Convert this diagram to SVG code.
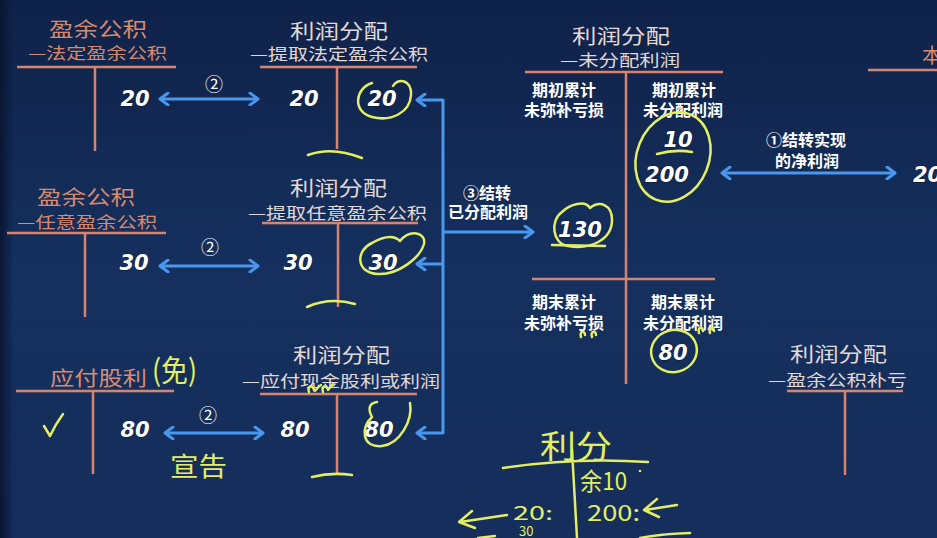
<svg xmlns="http://www.w3.org/2000/svg" width="937" height="538" viewBox="0 0 937 538">
<defs>
<linearGradient id="bg" x1="0" y1="0" x2="0" y2="1">
<stop offset="0" stop-color="#0f2249"/>
<stop offset="0.5" stop-color="#15305e"/>
<stop offset="1" stop-color="#152e5c"/>
</linearGradient>
<linearGradient id="edge" x1="0" y1="0" x2="1" y2="0">
<stop offset="0" stop-color="#091633"/>
<stop offset="1" stop-color="#091633" stop-opacity="0"/>
</linearGradient>
<marker id="ah" viewBox="0 0 12 14" refX="10" refY="7" markerWidth="12" markerHeight="14" markerUnits="userSpaceOnUse" orient="auto-start-reverse">
<path d="M2,1 L10,7 L2,13" fill="none" stroke="#4a97ee" stroke-width="3" stroke-linecap="round" stroke-linejoin="round"/>
</marker>
<style>
.ttl{font-family:"Noto Sans CJK SC","Noto Sans",sans-serif;font-size:20px;fill:#e2d8d4}
.o{fill:#d98a6e}
.sub{font-size:16px}
.tl{stroke:#d9826c;stroke-width:2.5;fill:none}
.num{font-family:"DejaVu Sans",sans-serif;font-weight:bold;font-style:italic;font-size:21px;fill:#ffffff;stroke:#0b1530;stroke-width:1;paint-order:stroke}
.lbl{font-family:"Noto Sans CJK SC","Noto Sans",sans-serif;font-weight:bold;font-size:16px;fill:#ffffff;text-anchor:middle}
.cir{font-family:"Noto Sans CJK SC","DejaVu Sans",sans-serif;font-size:18px;fill:#ffffff;text-anchor:middle}
.hw{fill:none;stroke:#e3ee63;stroke-width:2.5;stroke-linecap:round;stroke-linejoin:round}
.hwt{font-family:"Noto Sans CJK SC","Noto Sans",sans-serif;fill:#e3ee63;font-weight:400}
.conn{stroke:#4a97ee;stroke-width:3;fill:none}
</style>
</defs>
<rect width="937" height="538" fill="url(#bg)"/>
<rect width="14" height="538" fill="url(#edge)"/>

<g id="connectors">
<line class="conn" x1="160" y1="99" x2="258" y2="99" marker-start="url(#ah)" marker-end="url(#ah)"/>
<line class="conn" x1="160" y1="266" x2="258" y2="266" marker-start="url(#ah)" marker-end="url(#ah)"/>
<line class="conn" x1="165" y1="433" x2="263" y2="433" marker-start="url(#ah)" marker-end="url(#ah)"/>
<line class="conn" x1="722" y1="173" x2="895" y2="173" marker-start="url(#ah)" marker-end="url(#ah)"/>
<path class="conn" d="M443,99 V434"/>
<line class="conn" x1="443" y1="100" x2="417" y2="100" marker-end="url(#ah)"/>
<line class="conn" x1="443" y1="264" x2="417" y2="264" marker-end="url(#ah)"/>
<line class="conn" x1="443" y1="433" x2="417" y2="433" marker-end="url(#ah)"/>
<line class="conn" x1="443" y1="232" x2="533" y2="232" marker-end="url(#ah)"/>
<text class="cir" x="214" y="91">②</text>
<text class="cir" x="210" y="254">②</text>
<text class="cir" x="208" y="422">②</text>
<text class="lbl" x="487" y="199">③结转</text>
<text class="lbl" x="488" y="218">已分配利润</text>
<text class="lbl" x="806" y="146">①结转实现</text>
<text class="lbl" x="807" y="167">的净利润</text>
</g>

<g id="sr-statutory">
<text class="ttl o" x="49" y="37" textLength="98" lengthAdjust="spacingAndGlyphs">盈余公积</text>
<text class="ttl o sub" x="28" y="59" textLength="139" lengthAdjust="spacingAndGlyphs">—法定盈余公积</text>
<path class="tl" d="M17,67 H176 M95,67 V151"/>
<text class="num" x="135" y="106" text-anchor="middle">20</text>
</g>

<g id="pd-statutory">
<text class="ttl" x="290" y="39" textLength="98" lengthAdjust="spacingAndGlyphs">利润分配</text>
<text class="ttl sub" x="250" y="60" textLength="178" lengthAdjust="spacingAndGlyphs">—提取法定盈余公积</text>
<path class="tl" d="M260,67 H417 M337,67 V149"/>
<text class="num" x="304" y="106" text-anchor="middle">20</text>
<text class="num" x="382" y="106" text-anchor="middle">20</text>
<path class="hw" d="M372,83 C355,88 352,112 372,117 C392,122 410,112 411,95 C412,80 398,77 393,86"/>
<path class="hw" d="M308,155 Q332,146 362,158"/>
</g>

<g id="sr-discretionary">
<text class="ttl o" x="37" y="205" textLength="98" lengthAdjust="spacingAndGlyphs">盈余公积</text>
<text class="ttl o sub" x="17" y="228" textLength="140" lengthAdjust="spacingAndGlyphs">—任意盈余公积</text>
<path class="tl" d="M7,233 H166 M85,233 V317"/>
<text class="num" x="134" y="270" text-anchor="middle">30</text>
</g>

<g id="pd-discretionary">
<text class="ttl" x="290" y="196" textLength="97" lengthAdjust="spacingAndGlyphs">利润分配</text>
<text class="ttl sub" x="248" y="219" textLength="179" lengthAdjust="spacingAndGlyphs">—提取任意盈余公积</text>
<path class="tl" d="M262,223 H418 M338,223 V307"/>
<text class="num" x="298" y="270" text-anchor="middle">30</text>
<text class="num" x="383" y="270" text-anchor="middle">30</text>
<path class="hw" d="M372,243 C356,250 355,273 378,274 C398,275 420,258 424,244 C426,232 410,229 400,241 C394,235 384,236 372,243"/>
<path class="hw" d="M307,307 Q330,297 355,304"/>
</g>

<g id="dividends-payable">
<text class="ttl o" x="50" y="386" textLength="97" lengthAdjust="spacingAndGlyphs">应付股利</text>
<text class="hwt" x="152" y="381" font-size="30" textLength="45" lengthAdjust="spacingAndGlyphs">(免)</text>
<path class="tl" d="M16,391 H174 M93,391 V474"/>
<path class="hw" d="M44,426 L50,436 Q55,425 63,414"/>
<text class="num" x="135" y="437" text-anchor="middle">80</text>
<text class="hwt" x="170" y="476" font-size="26" textLength="57" lengthAdjust="spacingAndGlyphs">宣告</text>
</g>

<g id="pd-dividends">
<text class="ttl" x="293" y="363" textLength="97" lengthAdjust="spacingAndGlyphs">利润分配</text>
<text class="ttl sub" x="242" y="387" textLength="198" lengthAdjust="spacingAndGlyphs">—应付现金股利或利润</text>
<path class="tl" d="M260,394 H417 M337,394 V475"/>
<path class="hw" d="M309,392 C307,386 313,384 314,390 C315,393 317,387 321,385 M323,392 C321,386 327,384 328,390 L333,384"/>
<text class="num" x="295" y="437" text-anchor="middle">80</text>
<text class="num" x="379" y="437" text-anchor="middle">80</text>
<path class="hw" d="M372,417 C360,428 362,448 382,446 C400,444 413,420 410,403 M372,417 C367,408 370,403 377,402"/>
<path class="hw" d="M312,477 Q332,472 352,475"/>
</g>

<g id="pd-undistributed">
<text class="ttl" x="572" y="44" textLength="98" lengthAdjust="spacingAndGlyphs">利润分配</text>
<text class="ttl sub" x="560" y="66" textLength="120" lengthAdjust="spacingAndGlyphs">—未分配利润</text>
<path class="tl" d="M525,72 H723 M626,72 V384 M532,279 H715"/>
<text class="lbl" x="564" y="96">期初累计</text>
<text class="lbl" x="564" y="116">未弥补亏损</text>
<text class="lbl" x="684" y="96">期初累计</text>
<text class="lbl" x="683" y="116">未分配利润</text>
<text class="num" x="678" y="147" text-anchor="middle">10</text>
<path class="hw" d="M657,154 Q675,149 692,152"/>
<text class="num" x="667" y="182" text-anchor="middle">200</text>
<ellipse class="hw" cx="673" cy="157" rx="36" ry="46" transform="rotate(22 673 157)"/>
<text class="num" x="580" y="237" text-anchor="middle">130</text>
<path class="hw" d="M562,212 C550,220 552,244 568,246 C590,250 612,240 612,220 C612,205 600,200 590,208 C585,200 570,204 562,212"/>
<path class="hw" d="M552,245 L605,246"/>
<text class="lbl" x="564" y="308">期末累计</text>
<text class="lbl" x="564" y="329">未弥补亏损</text>
<text class="lbl" x="683" y="308">期末累计</text>
<text class="lbl" x="683" y="329">未分配利润</text>
<path class="hw" d="M581,337 C579,331 585,330 585,335 M592,337 C590,331 596,330 596,335 M699,333 C697,327 703,326 703,331 M710,333 C708,327 714,326 714,331"/>
<text class="num" x="673" y="360" text-anchor="middle">80</text>
<ellipse class="hw" cx="674" cy="351" rx="23" ry="21" transform="rotate(-15 674 351)"/>
</g>

<g id="profit-this-year">
<text class="ttl o" x="922" y="63">本</text>
<path class="tl" d="M868,70 H937"/>
<text class="num" x="913" y="182">20</text>
</g>

<g id="pd-surplus-loss">
<text class="ttl" x="790" y="362" textLength="97" lengthAdjust="spacingAndGlyphs">利润分配</text>
<text class="ttl sub" x="768" y="386" textLength="139" lengthAdjust="spacingAndGlyphs">—盈余公积补亏</text>
<path class="tl" d="M787,391 H903 M845,391 V475"/>
</g>

<g id="handwritten-t-account">
<text class="hwt" x="540" y="458" font-size="32" textLength="72" lengthAdjust="spacingAndGlyphs">利分</text>
<path class="hw" d="M503,468 Q575,457 648,462 M572,450 L577,538"/>
<text class="hwt" x="580" y="490" font-size="24" textLength="47" lengthAdjust="spacingAndGlyphs">余10</text>
<circle cx="640" cy="471" r="1.3" fill="#e3ee63"/>
<text class="hwt" x="587" y="521" font-size="22" textLength="53" lengthAdjust="spacingAndGlyphs">200:</text>
<path class="hw" d="M677,505 L645,510 M657,499 L644,510 L659,517"/>
<text class="hwt" x="513" y="520" font-size="19" textLength="40" lengthAdjust="spacingAndGlyphs">20:</text>
<text class="hwt" x="519" y="536" font-size="13">30</text>
<path class="hw" d="M507,515 L460,522 M472,511 L459,522 L475,528"/>
<path class="hw" d="M640,538 Q660,534 690,533 M478,538 L495,536"/>
</g>
</svg>
